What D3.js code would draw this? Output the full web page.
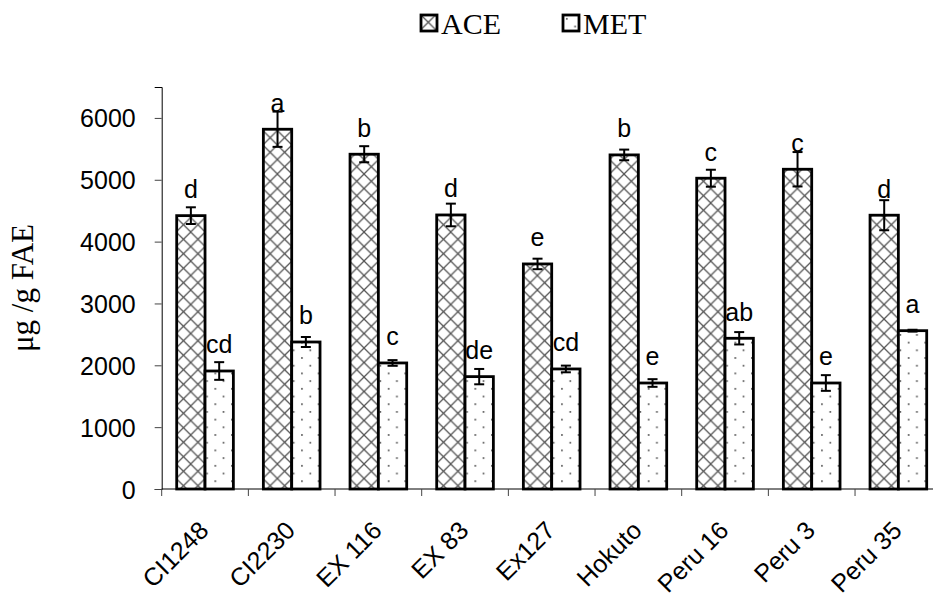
<!DOCTYPE html>
<html>
<head>
<meta charset="utf-8">
<script src="https://cdn.jsdelivr.net/npm/d3@7/dist/d3.min.js"></script>
<style>
  html, body { margin: 0; padding: 0; background: #fff; }
  svg { display: block; }
</style>
</head>
<body>
<svg id="chart" width="933" height="596"></svg>
<script>
// Phenolic content per cultivar (µg/g FAE), mean ± error, with significance letters
const categories = ["CI1248", "CI2230", "EX 116", "EX 83", "Ex127", "Hokuto", "Peru 16", "Peru 3", "Peru 35"];
const seriesNames = ["ACE", "MET"];
const aceValues  = [4420, 5817, 5413, 4431, 3639, 5402, 5025, 5170, 4427];
const aceErrors  = [135, 285, 130, 183, 85, 86, 137, 278, 243];
const aceLetters = ["d", "a", "b", "d", "e", "b", "c", "c", "d"];
const metValues  = [1908, 2377, 2038, 1817, 1941, 1714, 2437, 1714, 2560];
const metErrors  = [143, 81, 46, 124, 54, 62, 100, 127, 15];
const metLetters = ["cd", "b", "c", "de", "cd", "e", "ab", "e", "a"];
const yTicks = [0, 1000, 2000, 3000, 4000, 5000, 6000];
const yMax = 6500;

const svg = d3.select("#chart");
const sans = "'Liberation Sans', Arial, sans-serif";
const serif = "'Liberation Serif', 'Times New Roman', serif";

// Fill patterns: diagonal cross-hatch for ACE, sparse staggered dots for MET
const defs = svg.append("defs");
const hatch = defs.append("pattern")
  .attr("id", "pat-ace").attr("patternUnits", "userSpaceOnUse")
  .attr("width", 14.5).attr("height", 14.5);
hatch.append("rect").attr("width", 14.5).attr("height", 14.5).attr("fill", "#fff");
hatch.append("path").attr("d", "M0,0L14.5,14.5M14.5,0L0,14.5M-1,1L1,-1M13.5,15.5L15.5,13.5")
  .attr("stroke", "#555").attr("stroke-width", 1.3).attr("fill", "none");

const dots = defs.append("pattern")
  .attr("id", "pat-met").attr("patternUnits", "userSpaceOnUse")
  .attr("width", 16.6).attr("height", 15.4);
dots.append("rect").attr("width", 16.6).attr("height", 15.4).attr("fill", "#fff");
dots.append("rect").attr("x", 3).attr("y", 3).attr("width", 1.6).attr("height", 1.6).attr("fill", "#444");
dots.append("rect").attr("x", 11.3).attr("y", 10.7).attr("width", 1.6).attr("height", 1.6).attr("fill", "#444");

const fills = { ACE: "url(#pat-ace)", MET: "url(#pat-met)" };

// Scales
const x0 = d3.scaleBand().domain(categories).range([161.7, 941.7]).padding(0);
const x1 = d3.scaleBand().domain(seriesNames).range([15, x0.bandwidth() - 15]).padding(0);
const y = d3.scaleLinear().domain([0, yMax]).range([489, 87]);

const rows = categories.map((c, i) => ({
  cat: c,
  items: [
    { s: "ACE", v: aceValues[i], e: aceErrors[i], l: aceLetters[i] },
    { s: "MET", v: metValues[i], e: metErrors[i], l: metLetters[i] }
  ]
}));

// Y axis
const yAxis = svg.append("g")
  .attr("transform", "translate(" + x0.range()[0] + ",0)")
  .call(d3.axisLeft(y).tickValues(yTicks).tickSize(7).tickPadding(19).tickFormat(d3.format("d")));
yAxis.select(".domain").attr("stroke", "#000").attr("stroke-width", 1);
yAxis.selectAll(".tick line").attr("stroke", "#444");
yAxis.selectAll(".tick text")
  .attr("dy", "0.36em")
  .attr("font-family", sans).attr("font-size", 25).attr("fill", "#000");

// Bars
const groups = svg.append("g").selectAll("g").data(rows).join("g")
  .attr("transform", d => "translate(" + x0(d.cat) + ",0)");

groups.selectAll("rect").data(d => d.items).join("rect")
  .attr("x", d => x1(d.s))
  .attr("y", d => y(d.v))
  .attr("width", x1.bandwidth())
  .attr("height", d => y(0) - y(d.v))
  .attr("fill", d => fills[d.s])
  .attr("stroke", "#000").attr("stroke-width", 2.8);

// Error bars
const eb = groups.selectAll("g.err").data(d => d.items).join("g").attr("class", "err")
  .attr("transform", d => "translate(" + (x1(d.s) + x1.bandwidth() / 2) + ",0)");
eb.append("line").attr("x1", 0).attr("x2", 0)
  .attr("y1", d => y(d.v + d.e)).attr("y2", d => y(d.v - d.e))
  .attr("stroke", "#000").attr("stroke-width", 2);
eb.append("line").attr("x1", -5).attr("x2", 5)
  .attr("y1", d => y(d.v + d.e)).attr("y2", d => y(d.v + d.e))
  .attr("stroke", "#000").attr("stroke-width", 2);
eb.append("line").attr("x1", -5).attr("x2", 5)
  .attr("y1", d => y(d.v - d.e)).attr("y2", d => y(d.v - d.e))
  .attr("stroke", "#000").attr("stroke-width", 2);

// Significance letters
groups.selectAll("text.sig").data(d => d.items).join("text").attr("class", "sig")
  .attr("x", d => x1(d.s) + x1.bandwidth() / 2)
  .attr("y", d => y(d.v) - 17.7)
  .attr("text-anchor", "middle")
  .attr("font-family", sans).attr("font-size", 25)
  .text(d => d.l);

// X axis: baseline with ticks at category boundaries
const xAxisG = svg.append("g").attr("transform", "translate(0," + y(0) + ")");
xAxisG.append("line").attr("x1", x0.range()[0]).attr("x2", x0.range()[1])
  .attr("stroke", "#000").attr("stroke-width", 1);
xAxisG.selectAll("line.tk").data(categories).join("line").attr("class", "tk")
  .attr("x1", d => x0(d)).attr("x2", d => x0(d))
  .attr("y1", 0).attr("y2", 7).attr("stroke", "#444");
xAxisG.selectAll("text").data(categories).join("text")
  .attr("transform", d => "translate(" + (x0(d) + x0.bandwidth() / 2 + 5) + ",43) rotate(-45)")
  .attr("text-anchor", "end")
  .attr("font-family", sans).attr("font-size", 25)
  .text(d => d);

// Y axis title
svg.append("text")
  .attr("transform", "translate(33,288) rotate(-90)")
  .attr("text-anchor", "middle")
  .attr("font-family", serif).attr("font-size", 31)
  .text("μg /g FAE");

// Legend
const legend = svg.append("g");
const legendItems = [
  { s: "ACE", x: 421 },
  { s: "MET", x: 563 }
];
const li = legend.selectAll("g").data(legendItems).join("g")
  .attr("transform", d => "translate(" + d.x + ",15)");
li.append("rect").attr("width", 16).attr("height", 16)
  .attr("fill", d => fills[d.s]).attr("stroke", "#000").attr("stroke-width", 2.8);
li.append("text").attr("x", 20).attr("y", 19)
  .attr("font-family", serif).attr("font-size", 30)
  .text(d => d.s);
</script>
</body>
</html>
